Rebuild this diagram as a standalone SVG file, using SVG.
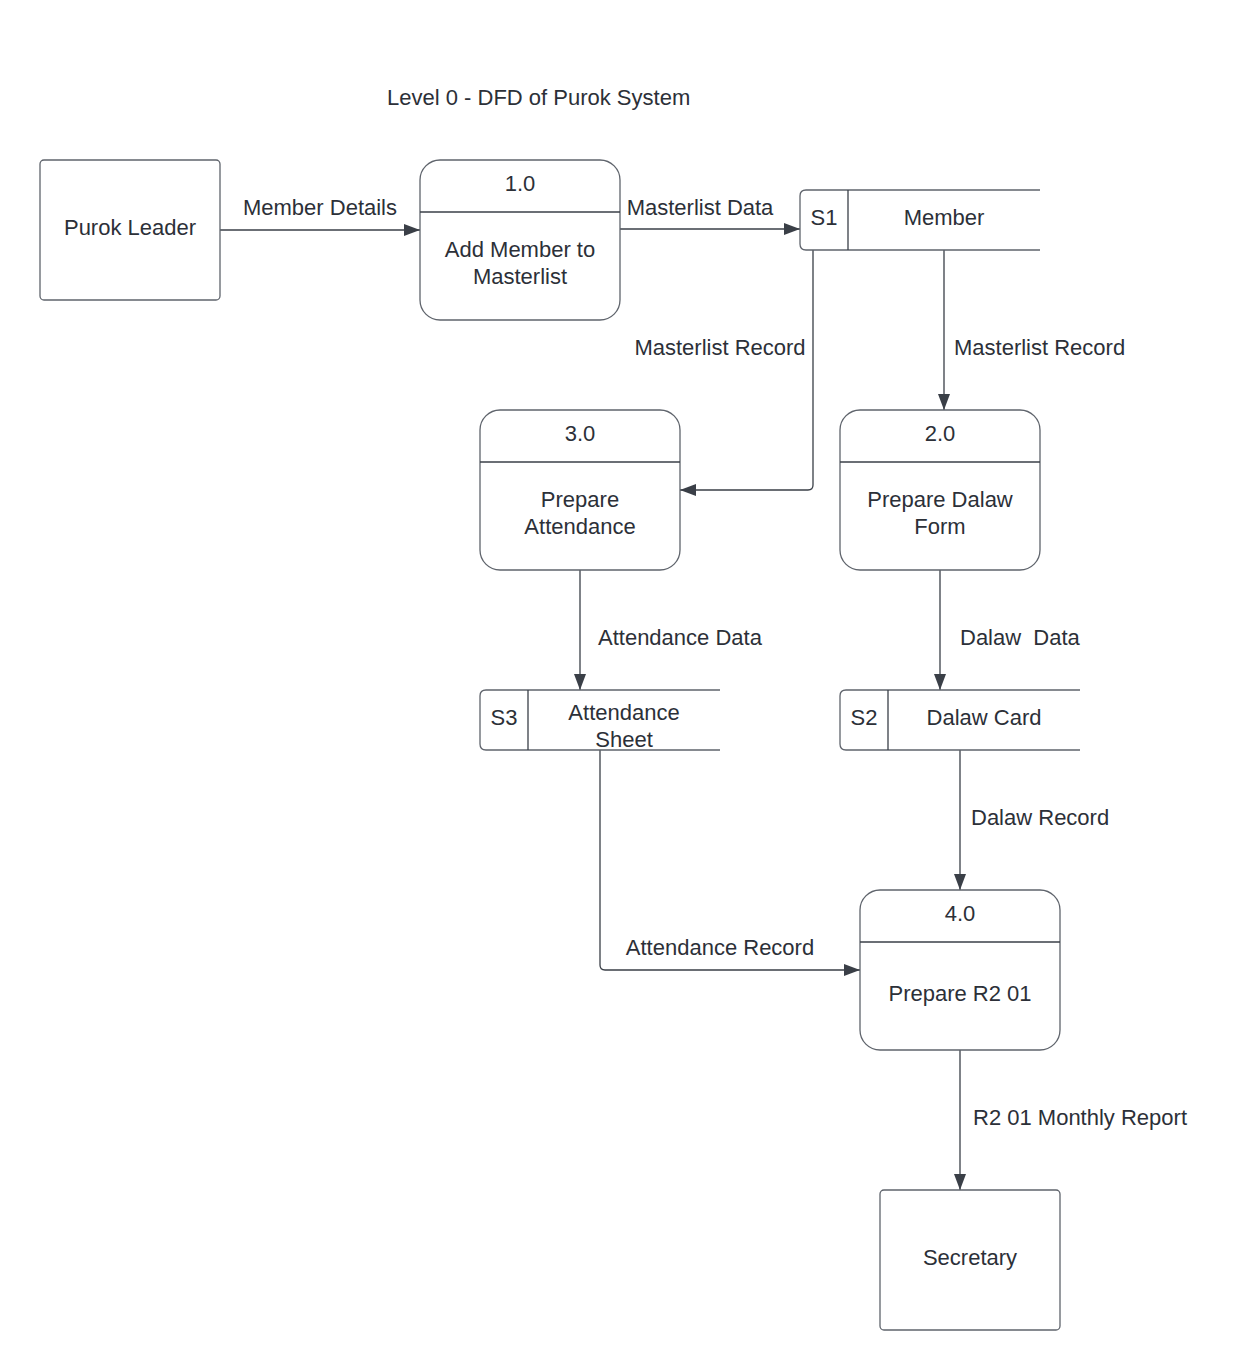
<svg xmlns="http://www.w3.org/2000/svg" width="1240" height="1370" viewBox="0 0 1240 1370">
  <style>
    .box { fill: #ffffff; stroke: #5f646c; stroke-width: 1.3; }
    .div { stroke: #3a3f47; stroke-width: 1.3; fill: none; }
    .flow { fill: none; stroke: #3a3f47; stroke-width: 1.3; }
    text { font-family: "Liberation Sans", Arial, sans-serif; font-size: 22px; fill: #2c3038; }
    .c { text-anchor: middle; }
  </style>
  <defs>
    <marker id="arrow" viewBox="0 0 16 12" refX="16" refY="6" markerWidth="16" markerHeight="12" markerUnits="userSpaceOnUse" orient="auto">
      <path d="M0,0 L16,6 L0,12 Z" fill="#3a3f47"/>
    </marker>
  </defs>
  <rect width="1240" height="1370" fill="#ffffff"/>

  <text x="387" y="105">Level 0 - DFD of Purok System</text>

  <!-- data flows -->
  <g id="connectors">
    <path class="flow" d="M220,230 H420" marker-end="url(#arrow)"/>
    <text class="c" x="320" y="215">Member Details</text>

    <path class="flow" d="M620,229 H800" marker-end="url(#arrow)"/>
    <text class="c" x="700" y="215">Masterlist Data</text>

    <path class="flow" d="M813,250 V485 Q813,490 808,490 H680" marker-end="url(#arrow)"/>
    <text class="c" x="720" y="355">Masterlist Record</text>

    <path class="flow" d="M944,250 V410" marker-end="url(#arrow)"/>
    <text x="954" y="355">Masterlist Record</text>

    <path class="flow" d="M580,570 V690" marker-end="url(#arrow)"/>
    <text x="598" y="645">Attendance Data</text>

    <path class="flow" d="M940,570 V690" marker-end="url(#arrow)"/>
    <text x="960" y="645" xml:space="preserve">Dalaw  Data</text>

    <path class="flow" d="M600,750 V965 Q600,970 605,970 H860" marker-end="url(#arrow)"/>
    <text class="c" x="720" y="955">Attendance Record</text>

    <path class="flow" d="M960,750 V890" marker-end="url(#arrow)"/>
    <text x="971" y="825">Dalaw Record</text>

    <path class="flow" d="M960,1050 V1190" marker-end="url(#arrow)"/>
    <text x="973" y="1125">R2 01 Monthly Report</text>
  </g>

  <!-- external entity: Purok Leader -->
  <g id="purok-leader">
    <rect class="box" x="40" y="160" width="180" height="140" rx="4"/>
    <text class="c" x="130" y="235">Purok Leader</text>
  </g>

  <!-- process 1.0 -->
  <g id="p1">
    <rect class="box" x="420" y="160" width="200" height="160" rx="20"/>
    <line class="div" x1="420" y1="212" x2="620" y2="212"/>
    <text class="c" x="520" y="191">1.0</text>
    <text class="c" x="520" y="257">Add Member to</text>
    <text class="c" x="520" y="284">Masterlist</text>
  </g>

  <!-- data store S1 -->
  <g id="s1">
    <path class="box" d="M1040,190 H806 Q800,190 800,196 V244 Q800,250 806,250 H1040"/>
    <line class="div" x1="848" y1="190" x2="848" y2="250"/>
    <text class="c" x="824" y="225">S1</text>
    <text class="c" x="944" y="225">Member</text>
  </g>

  <!-- process 3.0 -->
  <g id="p3">
    <rect class="box" x="480" y="410" width="200" height="160" rx="20"/>
    <line class="div" x1="480" y1="462" x2="680" y2="462"/>
    <text class="c" x="580" y="441">3.0</text>
    <text class="c" x="580" y="507">Prepare</text>
    <text class="c" x="580" y="534">Attendance</text>
  </g>

  <!-- process 2.0 -->
  <g id="p2">
    <rect class="box" x="840" y="410" width="200" height="160" rx="20"/>
    <line class="div" x1="840" y1="462" x2="1040" y2="462"/>
    <text class="c" x="940" y="441">2.0</text>
    <text class="c" x="940" y="507">Prepare Dalaw</text>
    <text class="c" x="940" y="534">Form</text>
  </g>

  <!-- data store S3 -->
  <g id="s3">
    <path class="box" d="M720,690 H486 Q480,690 480,696 V744 Q480,750 486,750 H720"/>
    <line class="div" x1="528" y1="690" x2="528" y2="750"/>
    <text class="c" x="504" y="725">S3</text>
    <text class="c" x="624" y="720">Attendance</text>
    <text class="c" x="624" y="747">Sheet</text>
  </g>

  <!-- data store S2 -->
  <g id="s2">
    <path class="box" d="M1080,690 H846 Q840,690 840,696 V744 Q840,750 846,750 H1080"/>
    <line class="div" x1="888" y1="690" x2="888" y2="750"/>
    <text class="c" x="864" y="725">S2</text>
    <text class="c" x="984" y="725">Dalaw Card</text>
  </g>

  <!-- process 4.0 -->
  <g id="p4">
    <rect class="box" x="860" y="890" width="200" height="160" rx="20"/>
    <line class="div" x1="860" y1="942" x2="1060" y2="942"/>
    <text class="c" x="960" y="921">4.0</text>
    <text class="c" x="960" y="1001">Prepare R2 01</text>
  </g>

  <!-- external entity: Secretary -->
  <g id="secretary">
    <rect class="box" x="880" y="1190" width="180" height="140" rx="4"/>
    <text class="c" x="970" y="1265">Secretary</text>
  </g>
</svg>
